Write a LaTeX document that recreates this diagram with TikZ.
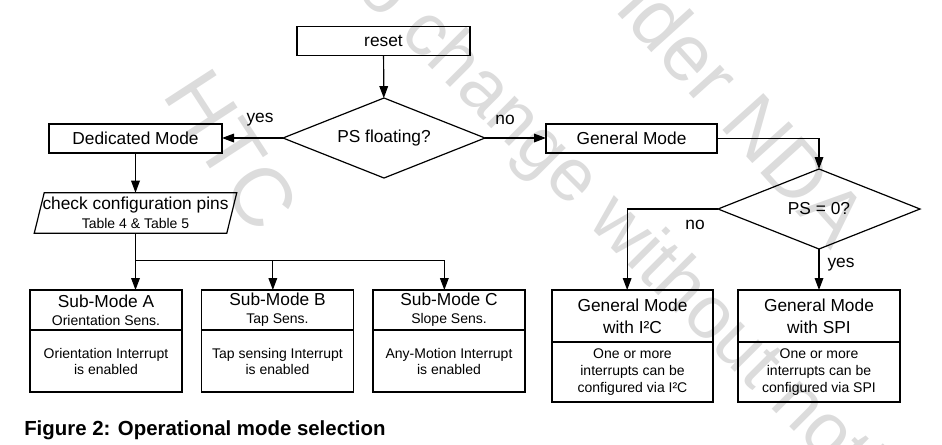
\documentclass[tikz,border=0pt]{standalone}
\usepackage{fontspec}
\setmainfont{Liberation Sans}
\usepackage{xcolor}
\usepackage{tikz}
\usetikzlibrary{shapes.geometric, arrows.meta, positioning, calc}
\definecolor{wmgray}{RGB}{220,220,220}

\tikzset{
    box/.style={draw, line width=0.9pt, outer sep=0pt, inner sep=1pt, minimum height=21.75pt, font=\fontsize{13}{15}\selectfont},
    decision/.style={diamond, draw, line width=0.9pt, outer sep=0pt, aspect=2.5, inner sep=1pt,
        minimum width=151.5pt, minimum height=60pt, font=\fontsize{13}{15}\selectfont},
    head/.style={draw, line width=0.9pt, outer sep=0pt, inner sep=1pt, align=center},
    body/.style={draw, line width=0.9pt, outer sep=0pt, inner sep=1pt, align=center},
    lbl/.style={inner sep=0pt, font=\fontsize{13}{15}\selectfont},
    wm/.style={text=wmgray, rotate=-45, inner sep=0pt, font=\fontsize{56}{60}\selectfont},
    flow/.style={line width=0.9pt, -{Triangle[length=9pt,width=6.5pt]}}
}

\begin{document}
\begin{tikzpicture}[x=0.75pt, y=-0.75pt]
    \useasboundingbox (0,0) rectangle (942,444);

    % Watermark
    \begin{scope}
        \clip (0,0) rectangle (942,444);
        \node[wm, rotate=-12, font=\fontsize{62}{66}\selectfont] (wmHTC) at (232,150) {HTC};
        \node[wm] (wmChange) at (638,248) {to change without notice};
        \node[wm, rotate=-3, font=\fontsize{60}{64}\selectfont] (wmNDA) at (720,85) {under NDA};
    \end{scope}

    % Top of the flow
    \node[box, minimum width=129.75pt] (reset) at (383.5,41) {reset};
    \node[decision] (float) at (384,138) {PS floating?};
    \node[box, minimum width=129.75pt] (dedicated) at (135.5,138.5) {Dedicated Mode};
    \node[box, minimum width=128.25pt] (general) at (631.5,138.5) {General Mode};
    \node[decision] (pszero) at (819,209) {PS = 0?};

    % Configuration pins (parallelogram)
    \node[align=center, inner sep=0pt, minimum width=144pt, minimum height=30pt,
        font=\fontsize{13}{14.25}\selectfont] (check) at (135.5,213)
        {check configuration pins\\{\fontsize{10.5}{14.25}\selectfont Table 4 \& Table 5}};
    \draw[line width=0.9pt] ($(check.north west)+(5,0)$) -- ($(check.north east)+(5,0)$)
        -- ($(check.south east)+(-5,0)$) -- ($(check.south west)+(-5,0)$) -- cycle;

    % Dedicated sub-modes
    \node[head, minimum width=114pt, minimum height=30pt, font=\fontsize{13}{13.5}\selectfont] (subA) at (106,310)
        {Sub-Mode A\\{\fontsize{10.5}{13.5}\selectfont Orientation Sens.}};
    \node[body, minimum width=114pt, minimum height=46.5pt, font=\fontsize{10.5}{12}\selectfont, below=0pt of subA] (subAtxt)
        {Orientation Interrupt\\is enabled};
    \node[head, minimum width=114pt, minimum height=30pt, font=\fontsize{13}{13.5}\selectfont] (subB) at (277.5,310)
        {Sub-Mode B\\{\fontsize{10.5}{13.5}\selectfont Tap Sens.}};
    \node[body, minimum width=114pt, minimum height=46.5pt, font=\fontsize{10.5}{12}\selectfont, below=0pt of subB] (subBtxt)
        {Tap sensing Interrupt\\is enabled};
    \node[head, minimum width=114pt, minimum height=30pt, font=\fontsize{13}{13.5}\selectfont] (subC) at (449,310)
        {Sub-Mode C\\{\fontsize{10.5}{13.5}\selectfont Slope Sens.}};
    \node[body, minimum width=114pt, minimum height=46.5pt, font=\fontsize{10.5}{12}\selectfont, below=0pt of subC] (subCtxt)
        {Any-Motion Interrupt\\is enabled};

    % General mode variants
    \node[head, minimum width=120.75pt, minimum height=39pt, font=\fontsize{13}{16.5}\selectfont] (i2c) at (632.5,316)
        {General Mode\\with I²C};
    \node[body, minimum width=120.75pt, minimum height=45pt, font=\fontsize{10.5}{12.75}\selectfont, below=0pt of i2c] (i2ctxt)
        {One or more\\interrupts can be\\configured via I²C};
    \node[head, minimum width=121.5pt, minimum height=39pt, font=\fontsize{13}{16.5}\selectfont] (spi) at (819,316)
        {General Mode\\with SPI};
    \node[body, minimum width=121.5pt, minimum height=45pt, font=\fontsize{10.5}{12.75}\selectfont, below=0pt of spi] (spitxt)
        {One or more\\interrupts can be\\configured via SPI};

    % Connectors
    \draw[flow] (reset) -- (float);
    \draw[flow] (float.west) -- (float.west -| dedicated.east);
    \draw[flow] (float.east) -- (float.east -| general.west);
    \draw[flow] (general.east) -| (pszero.north);
    \draw[flow] (dedicated) -- (check);
    \coordinate (bus) at ($(check.south)+(0,27)$);
    \draw[flow] (check.south) -- (check.south |- subA.north);
    \draw[flow] (bus) -| ([xshift=-3.5pt]subB.north);
    \draw[flow] (bus) -| ([xshift=-3.5pt]subC.north);
    \draw[flow] (pszero.west) -| ([xshift=-4pt]i2c.north);
    \draw[flow] (pszero.south) -- (spi.north);

    % Branch labels
    \node[lbl] (yesLeft) at (260,120) {yes};
    \node[lbl] (noRight) at (505,119.7) {no};
    \node[lbl] (noDown) at (695,224.5) {no};
    \node[lbl] (yesDown) at (841,265) {yes};

    % Caption
    \node[anchor=base west, inner sep=0pt, font=\fontsize{15.3}{18}\selectfont\bfseries] (caption) at (24,435)
        {Figure 2: Operational mode selection};
\end{tikzpicture}
\end{document}
